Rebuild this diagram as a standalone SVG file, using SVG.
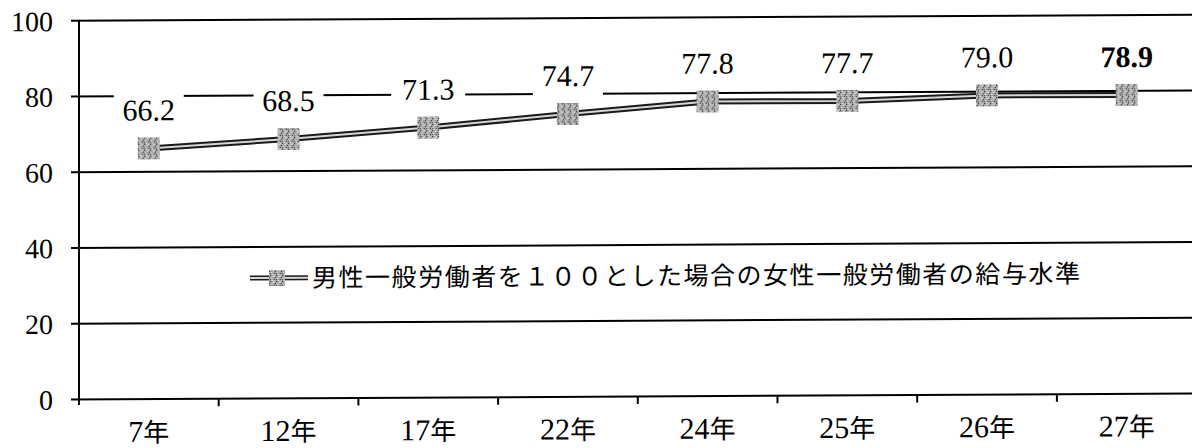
<svg xmlns="http://www.w3.org/2000/svg" width="1192" height="448" viewBox="0 0 1192 448">
<style>
.grid{stroke:#000;stroke-width:2;fill:none}
.axis{stroke:#000;stroke-width:2;fill:none}
.ylab{font-family:"Liberation Serif","Noto Sans CJK JP",serif;font-size:28px;fill:#000;text-anchor:end}
.xlab{font-family:"Liberation Serif","Noto Sans CJK JP",serif;font-size:26px;fill:#000;text-anchor:middle}
.xlab tspan{font-size:30px}
.dlab{font-family:"Liberation Serif",serif;font-size:30px;fill:#000;text-anchor:middle}
.lbg{fill:#fff}
.outer{stroke:#1a1a1a;stroke-width:6;fill:none;stroke-linejoin:round}
.inner{stroke:#d6d6d6;stroke-width:2;fill:none;stroke-linejoin:round}
.mk{fill:url(#speck);stroke:none}
.leg{font-family:"Noto Sans CJK JP","Noto Sans CJK SC",sans-serif;font-size:25px;fill:#000}
</style>
<defs>
<pattern id="speck" width="6" height="6" patternUnits="userSpaceOnUse">
<rect width="6" height="6" fill="#a8a8a8"/>
<rect x="0" y="0" width="1" height="1" fill="#222"/>
<rect x="3" y="1" width="1" height="1" fill="#fff"/>
<rect x="5" y="2" width="1" height="1" fill="#333"/>
<rect x="1" y="3" width="1" height="1" fill="#eee"/>
<rect x="4" y="4" width="1" height="1" fill="#222"/>
<rect x="2" y="5" width="1" height="1" fill="#fff"/>
<rect x="0" y="4" width="1" height="1" fill="#555"/>
<rect x="4" y="0" width="1" height="1" fill="#ddd"/>
</pattern>
</defs>
<rect width="1192" height="448" fill="#fff"/>
<g transform="matrix(1 -0.0054 0 1 0 0.4266)">
<g id="gridlines">
<line class="grid" x1="71" y1="20.8" x2="1200" y2="20.8"/>
<line class="grid" x1="71" y1="96.5" x2="1200" y2="96.5"/>
<line class="grid" x1="71" y1="172.3" x2="1200" y2="172.3"/>
<line class="grid" x1="71" y1="248" x2="1200" y2="248"/>
<line class="grid" x1="71" y1="323.8" x2="1200" y2="323.8"/>
</g>
<g id="axes">
<line class="axis" x1="79" y1="20" x2="79" y2="405"/>
<line class="axis" x1="71" y1="399.5" x2="1200" y2="399.5"/>
<line class="axis" x1="218.7" y1="399.5" x2="218.7" y2="407"/>
<line class="axis" x1="358.4" y1="399.5" x2="358.4" y2="407"/>
<line class="axis" x1="498.1" y1="399.5" x2="498.1" y2="407"/>
<line class="axis" x1="637.8" y1="399.5" x2="637.8" y2="407"/>
<line class="axis" x1="777.5" y1="399.5" x2="777.5" y2="407"/>
<line class="axis" x1="917.2" y1="399.5" x2="917.2" y2="407"/>
<line class="axis" x1="1056.9" y1="399.5" x2="1056.9" y2="407"/>
</g>
<g id="y-labels">
<text class="ylab" x="53" y="31">100</text>
<text class="ylab" x="53" y="106.5">80</text>
<text class="ylab" x="53" y="182.3">60</text>
<text class="ylab" x="53" y="258">40</text>
<text class="ylab" x="53" y="333.8">20</text>
<text class="ylab" x="53" y="409.5">0</text>
</g>
<g id="x-labels">
<text class="xlab" x="148.8" y="442"><tspan>7</tspan>年</text>
<text class="xlab" x="288.5" y="442"><tspan>12</tspan>年</text>
<text class="xlab" x="428.2" y="442"><tspan>17</tspan>年</text>
<text class="xlab" x="567.9" y="442"><tspan>22</tspan>年</text>
<text class="xlab" x="707.6" y="442"><tspan>24</tspan>年</text>
<text class="xlab" x="847.3" y="442"><tspan>25</tspan>年</text>
<text class="xlab" x="987" y="442"><tspan>26</tspan>年</text>
<text class="xlab" x="1126.7" y="442"><tspan>27</tspan>年</text>
</g>
<g id="data-labels">
<rect class="lbg" x="113.8" y="88.8" width="70" height="44"/>
<text class="dlab" x="148.8" y="120.8">66.2</text>
<rect class="lbg" x="253.5" y="80.1" width="70" height="44"/>
<text class="dlab" x="288.5" y="112.1">68.5</text>
<rect class="lbg" x="391.2" y="69.5" width="74" height="44"/>
<text class="dlab" x="428.2" y="101.5">71.3</text>
<rect class="lbg" x="532.9" y="56.6" width="70" height="44"/>
<text class="dlab" x="567.9" y="88.6">74.7</text>
<rect class="lbg" x="672.6" y="44.9" width="70" height="44"/>
<text class="dlab" x="707.6" y="76.9">77.8</text>
<rect class="lbg" x="812.3" y="45.2" width="70" height="44"/>
<text class="dlab" x="847.3" y="77.2">77.7</text>
<rect class="lbg" x="952" y="40.3" width="70" height="44"/>
<text class="dlab" x="987" y="72.3">79.0</text>
<rect class="lbg" x="1091.7" y="40.7" width="70" height="44"/>
<text class="dlab" x="1126.7" y="72.7" font-weight="bold">78.9</text>
</g>
<g id="series">
<polyline class="outer" points="148.8,148.8 288.5,140.1 428.2,129.5 567.9,116.6 707.6,104.9 847.3,105.2 987,100.3 1126.7,100.7"/>
<polyline class="inner" points="148.8,148.8 288.5,140.1 428.2,129.5 567.9,116.6 707.6,104.9 847.3,105.2 987,100.3 1126.7,100.7"/>
<rect class="mk" x="137.8" y="137.8" width="22" height="22"/>
<rect class="mk" x="277.5" y="129.1" width="22" height="22"/>
<rect class="mk" x="417.2" y="118.5" width="22" height="22"/>
<rect class="mk" x="556.9" y="105.6" width="22" height="22"/>
<rect class="mk" x="696.6" y="93.9" width="22" height="22"/>
<rect class="mk" x="836.3" y="94.2" width="22" height="22"/>
<rect class="mk" x="976" y="89.3" width="22" height="22"/>
<rect class="mk" x="1115.7" y="89.7" width="22" height="22"/>
</g>
<g id="legend">
<line class="outer" x1="250" y1="279" x2="308" y2="279" style="stroke-width:5"/>
<line class="inner" x1="250" y1="279" x2="308" y2="279"/>
<rect class="mk" x="269" y="271" width="16" height="16"/>
<text class="leg" x="312" y="288" textLength="768" lengthAdjust="spacing">男性一般労働者を１００とした場合の女性一般労働者の給与水準</text>
</g>
</g>
</svg>
